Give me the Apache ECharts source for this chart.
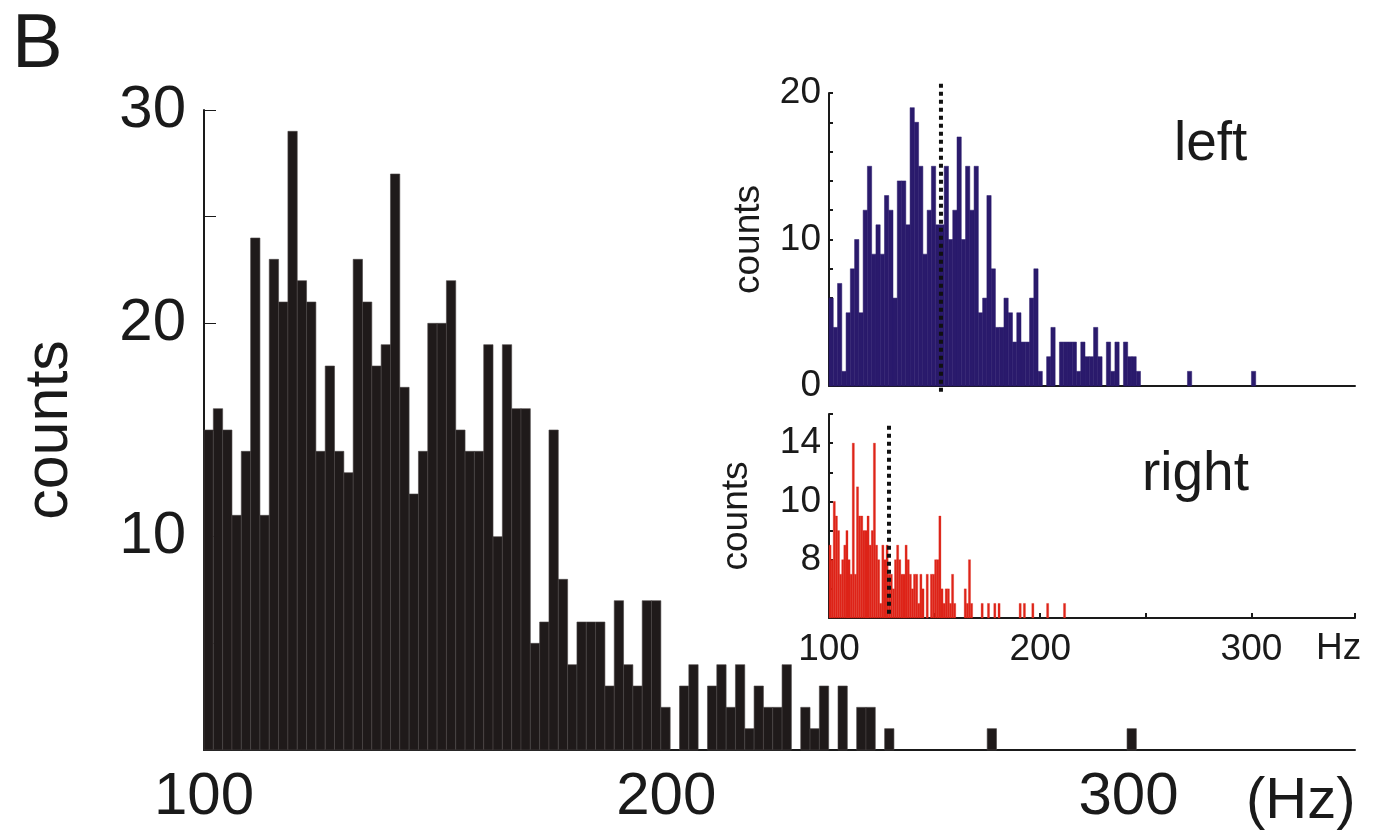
<!DOCTYPE html>
<html><head><meta charset="utf-8">
<script src="https://cdn.jsdelivr.net/npm/echarts@6/dist/echarts.min.js"></script>
<style>html,body{margin:0;padding:0;background:#fff}#c{width:1380px;height:832px}</style>
</head><body><div id="c"></div>
<script>
// ---- data ----
const binStart = 100;          // Hz
const mainBinWidth = 2.017;    // Hz (100 equal bins)
const mainCounts = [15,16,15,11,14,24,11,23,21,29, 22,21,14,18,14,13,23,21,18,19,
  27,17,12,14,20,20,22,15,14,14, 19,10,19,16,16,5,6,15,8,4,
  6,6,6,3,7,4,3,7,7,2, 0,3,4,0,3,4,2,4,1,3,
  2,2,4,0,2,1,3,0,3,0, 2,2,0,1,0,0,0,0,0,0,
  0,0,0,0,1,0,0,0,0,0, 0,0,0,0,0,0,0,0,0,1];
const leftBinWidth = 2.02;
const leftCounts = [6,4,7,1,5,8,10,5,12,15, 9,11,9,13,12,6,14,14,11,19,
  18,15,9,12,15,11,11,15,10,12, 17,10,15,12,15,5,6,13,8,4,
  4,6,5,3,5,3,3,6,8,1, 0,2,4,0,3,3,3,3,1,3,
  2,2,4,2,0,3,1,3,0,3, 2,2,1,0,0,0,0,0,0,0,
  0,0,0,0,1,0,0,0,0,0, 0,0,0,0,0,0,0,0,0,1];
const rightBinWidth = 1;
const rightCounts = [7,6,10,9,8,5,6,7,8,6, 5,14,5,11,9,9,8,8,9,7,
  8,14,7,6,3,7,6,7,5,5, 4,6,7,6,5,5,7,6,5,4,
  5,5,3,5,4,2,5,2,5,5, 6,6,9,4,3,4,4,3,5,3,
  2,2,2,2,4,3,6,3,2,2, 2,2,3,2,2,3,2,2,3,2,
  3,2,2,2,2,2,2,2,2,2, 3,2,3,2,2,2,3,2,2,2,
  2,2,2,3,2,2,2,2,2,2, 2,3,2];
const leftMedian = 153;   // Hz, dotted line
const rightMedian = 128.4;
const mainYLabels = [10, 20, 30];
const mainXLabels = [100, 200, 300];
const leftYLabels = [0, 10, 20];
const insetXLabels = [100, 200, 300];
const rightYLabels = {6: '8', 10: '10', 14: '14'};
const panelLetter = 'B';
const leftTitle = 'left';
const rightTitle = 'right';

// ---- build ----
function bins(counts, width) {
  return counts.map((c, i) => [binStart + i * width, binStart + (i + 1) * width, c]);
}
function histItem(base, stroke, lw) {
  return function (params, api) {
    const x0 = api.value(0), x1 = api.value(1), y = api.value(2);
    if (y <= base) return null;
    const p0 = api.coord([x0, y]);
    const p1 = api.coord([x1, base]);
    return {
      type: 'rect',
      shape: {x: p0[0], y: p0[1], width: p1[0] - p0[0], height: p1[1] - p0[1]},
      style: {fill: api.visual('color'), stroke: stroke || api.visual('color'), lineWidth: lw}
    };
  };
}
const FONT = "'Liberation Sans', Arial, sans-serif";
const INK = '#1a1a1a';
const chart = echarts.init(document.getElementById('c'), null, {renderer: 'canvas'});
const axisLine = {show: true, lineStyle: {color: INK, width: 2}};

chart.setOption({
  backgroundColor: '#fff',
  animation: false,
  grid: [
    {left: 204, right: 25, top: 110, bottom: 82},
    {left: 829, right: 25, top: 93, bottom: 446},
    {left: 829, right: 25, top: 414, bottom: 214}
  ],
  xAxis: [
    {gridIndex: 0, type: 'value', min: 100, max: 349, interval: 100,
     axisLine: axisLine, axisTick: {show: false}, splitLine: {show: false},
     axisLabel: {margin: 17, fontSize: 60, color: INK, fontFamily: FONT,
       formatter: v => mainXLabels.includes(v) ? String(v) : ''}},
    {gridIndex: 1, type: 'value', min: 100, max: 349, interval: 50,
     axisLine: axisLine, axisTick: {show: false}, splitLine: {show: false},
     axisLabel: {show: false}},
    {gridIndex: 2, type: 'value', min: 100, max: 349, interval: 50,
     axisLine: axisLine, axisTick: {show: true, inside: true, length: 5, lineStyle: {color: INK, width: 2}},
     splitLine: {show: false},
     axisLabel: {margin: 13, fontSize: 37, color: INK, fontFamily: FONT,
       formatter: v => insetXLabels.includes(v) ? String(v) : ''}}
  ],
  yAxis: [
    {gridIndex: 0, type: 'value', min: 0, max: 30, interval: 5,
     name: 'counts', nameLocation: 'middle', nameGap: 123, nameRotate: 90,
     nameTextStyle: {fontSize: 61, color: INK, fontFamily: FONT},
     axisLine: axisLine, axisTick: {show: true, inside: true, length: 12, lineStyle: {color: INK, width: 1}},
     splitLine: {show: false},
     axisLabel: {margin: 18, fontSize: 60, color: INK, fontFamily: FONT,
       formatter: v => mainYLabels.includes(v) ? String(v) : ''}},
    {gridIndex: 1, type: 'value', min: 0, max: 20, interval: 2,
     name: 'counts', nameLocation: 'middle', nameGap: 62, nameRotate: 90,
     nameTextStyle: {fontSize: 37, color: INK, fontFamily: FONT},
     axisLine: axisLine, axisTick: {show: true, inside: true, length: 4, lineStyle: {color: INK, width: 2}},
     splitLine: {show: false},
     axisLabel: {margin: 8, fontSize: 37, color: INK, fontFamily: FONT,
       formatter: v => leftYLabels.includes(v) ? String(v) : ''}},
    {gridIndex: 2, type: 'value', min: 2, max: 16, interval: 2,
     name: 'counts', nameLocation: 'middle', nameGap: 74, nameRotate: 90,
     nameTextStyle: {fontSize: 37, color: INK, fontFamily: FONT},
     axisLine: axisLine, axisTick: {show: true, inside: true, length: 4, lineStyle: {color: INK, width: 2}},
     splitLine: {show: false},
     axisLabel: {margin: 8, fontSize: 37, color: INK, fontFamily: FONT,
       formatter: v => rightYLabels[v] || ''}}
  ],
  series: [
    {type: 'custom', xAxisIndex: 0, yAxisIndex: 0, renderItem: histItem(0, '#4a4544', 0.6),
     itemStyle: {color: '#1f1a1a'}, encode: {x: [0, 1], y: 2},
     data: bins(mainCounts, mainBinWidth), clip: false},
    {type: 'custom', xAxisIndex: 1, yAxisIndex: 1, renderItem: histItem(0, null, 0.5),
     itemStyle: {color: '#2a1a6c'}, encode: {x: [0, 1], y: 2},
     data: bins(leftCounts, leftBinWidth)},
    {type: 'custom', xAxisIndex: 2, yAxisIndex: 2, renderItem: histItem(2, null, 0.3),
     itemStyle: {color: '#de2419'}, encode: {x: [0, 1], y: 2},
     data: bins(rightCounts, rightBinWidth)},
    {type: 'line', xAxisIndex: 1, yAxisIndex: 1, symbol: 'none', clip: false, z: 5,
     lineStyle: {color: '#111', width: 4, type: [4, 4], cap: 'butt'},
     data: [[leftMedian, -0.4], [leftMedian, 20.7]]},
    {type: 'line', xAxisIndex: 2, yAxisIndex: 2, symbol: 'none', clip: false, z: 5,
     lineStyle: {color: '#111', width: 4, type: [4, 4], cap: 'butt'},
     data: [[rightMedian, 2.3], [rightMedian, 15.4]]}
  ],
  graphic: [
    {type: 'text', left: 12, top: 8, style: {text: panelLetter, fill: INK, font: '76px ' + FONT}},
    {type: 'text', left: 1246, top: 773, style: {text: '(Hz)', fill: INK, font: '58px ' + FONT}},
    {type: 'text', left: 1316, top: 630, style: {text: 'Hz', fill: INK, font: '37px ' + FONT}},
    {type: 'text', left: 1174, top: 117, style: {text: leftTitle, fill: INK, font: '55px ' + FONT}},
    {type: 'text', left: 1142, top: 447, style: {text: rightTitle, fill: INK, font: '55px ' + FONT}}
  ]
});
</script></body></html>
